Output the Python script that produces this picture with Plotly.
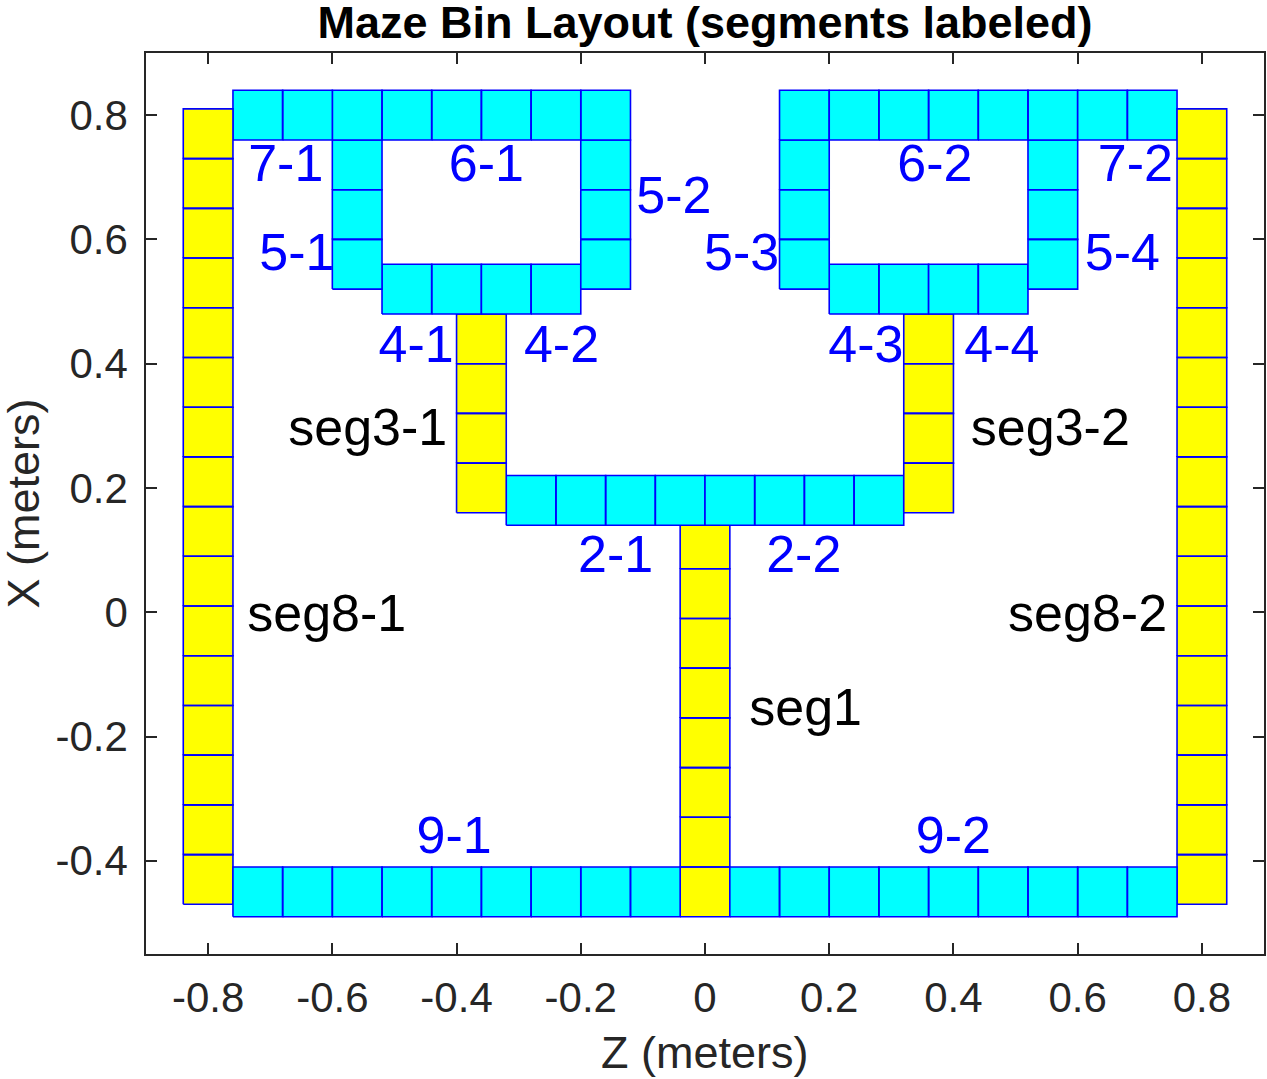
import plotly.graph_objects as go

# bin size in meters
bin_size = 0.08

# maze segments: lower-left corner of first bin (Z, X), direction of run, number of bins
seg_names = ['seg1', '2-1', '2-2', 'seg3-1', 'seg3-2', '4-1', '4-2', '4-3', '4-4',
             '5-1', '5-2', '5-3', '5-4', '6-1', '6-2', '7-1', '7-2',
             'seg8-1', 'seg8-2', '9-1', '9-2']
seg_z0 = [-0.04, -0.32, 0.00, -0.40, 0.32, -0.52, -0.36, 0.20, 0.36,
          -0.60, -0.20, 0.12, 0.52, -0.60, 0.12, -0.76, 0.60,
          -0.84, 0.76, -0.76, 0.04]
seg_x0 = [-0.49, 0.14, 0.14, 0.16, 0.16, 0.48, 0.48, 0.48, 0.48,
          0.52, 0.52, 0.52, 0.52, 0.76, 0.76, 0.76, 0.76,
          -0.47, -0.47, -0.49, -0.49]
seg_dir = ['x', 'z', 'z', 'x', 'x', 'z', 'z', 'z', 'z',
           'x', 'x', 'x', 'x', 'z', 'z', 'z', 'z',
           'x', 'x', 'z', 'z']
seg_nbins = [8, 4, 4, 4, 4, 2, 2, 2, 2,
             3, 3, 3, 3, 6, 6, 2, 2,
             16, 16, 9, 9]

# label text and where it sits (Z, X)
label_text = ['7-1', '6-1', '5-2', '5-1', '5-3', '6-2', '7-2', '5-4',
              '4-1', '4-2', '4-3', '4-4', '2-1', '2-2', '9-1', '9-2',
              'seg3-1', 'seg3-2', 'seg8-1', 'seg8-2', 'seg1']
label_z = [-0.675, -0.352, -0.05, -0.657, 0.059, 0.37, 0.693, 0.672,
           -0.465, -0.231, 0.259, 0.478, -0.144, 0.159, -0.404, 0.40,
           -0.543, 0.556, -0.609, 0.616, 0.162]
label_x = [0.715, 0.715, 0.664, 0.572, 0.572, 0.715, 0.715, 0.572,
           0.424, 0.424, 0.424, 0.424, 0.086, 0.086, -0.366, -0.366,
           0.29, 0.29, -0.009, -0.009, -0.16]

tick_vals_z = [-0.8, -0.6, -0.4, -0.2, 0, 0.2, 0.4, 0.6, 0.8]
tick_vals_x = [-0.4, -0.2, 0, 0.2, 0.4, 0.6, 0.8]

FONT = 'Liberation Sans, Arial, sans-serif'
AX = '#262626'

fig = go.Figure()

for name, z0, x0, d, n in zip(seg_names, seg_z0, seg_x0, seg_dir, seg_nbins):
    zs, xs = [], []
    for k in range(n):
        z = z0 + (k * bin_size if d == 'z' else 0)
        x = x0 + (k * bin_size if d == 'x' else 0)
        zs += [z, z + bin_size, z + bin_size, z, z, None]
        xs += [x, x, x + bin_size, x + bin_size, x, None]
    fig.add_trace(go.Scatter(
        x=zs, y=xs, mode='lines', fill='toself',
        fillcolor='#FFFF00' if name.startswith('seg') else '#00FFFF',
        line=dict(color='#0000FF', width=1.6),
        hoverinfo='skip', showlegend=False))

fig.add_trace(go.Scatter(
    x=label_z, y=label_x, mode='text', text=label_text,
    textposition='middle center',
    textfont=dict(family=FONT, size=52,
                  color=['black' if t.startswith('seg') else '#0000FF' for t in label_text]),
    hoverinfo='skip', showlegend=False))

axis_common = dict(
    showgrid=False, zeroline=False, showline=True, linecolor=AX, linewidth=1.5,
    mirror='ticks', ticks='inside', ticklen=11, tickwidth=1.5, tickcolor=AX,
    automargin=False,
    tickfont=dict(family=FONT, size=42, color=AX))

fig.update_xaxes(range=[-0.9, 0.9], tickvals=tick_vals_z,
                 ticktext=['%g' % v for v in tick_vals_z],
                 ticklabelstandoff=6, **axis_common)
fig.update_yaxes(range=[-0.55, 0.9], tickvals=tick_vals_x,
                 ticktext=['%g' % v for v in tick_vals_x],
                 ticklabelstandoff=8, **axis_common)

# axis titles as annotations so they sit where the reference has them
fig.add_annotation(text='Z (meters)', xref='paper', yref='paper', x=0.5, y=0,
                   xanchor='center', yanchor='middle', yshift=-98, showarrow=False,
                   font=dict(family=FONT, size=45, color=AX))
fig.add_annotation(text='X (meters)', xref='paper', yref='paper', x=0, y=0.5,
                   xanchor='center', yanchor='middle', xshift=-123, textangle=-90,
                   showarrow=False, font=dict(family=FONT, size=45, color=AX))

fig.update_layout(
    width=1267, height=1079,
    margin=dict(l=146, r=3, t=53, b=125),
    plot_bgcolor='white', paper_bgcolor='white',
    title=dict(text='<b>Maze Bin Layout (segments labeled)</b>',
               font=dict(family=FONT, size=45, color='black'),
               x=0.5, xref='paper', y=1 - 22 / 1079, yref='container', yanchor='middle'),
)

# drop the default page margin so the figure fills the window exactly
fig.write_html('out.html', config={'displayModeBar': False},
               post_script="document.body.style.margin='0';")
